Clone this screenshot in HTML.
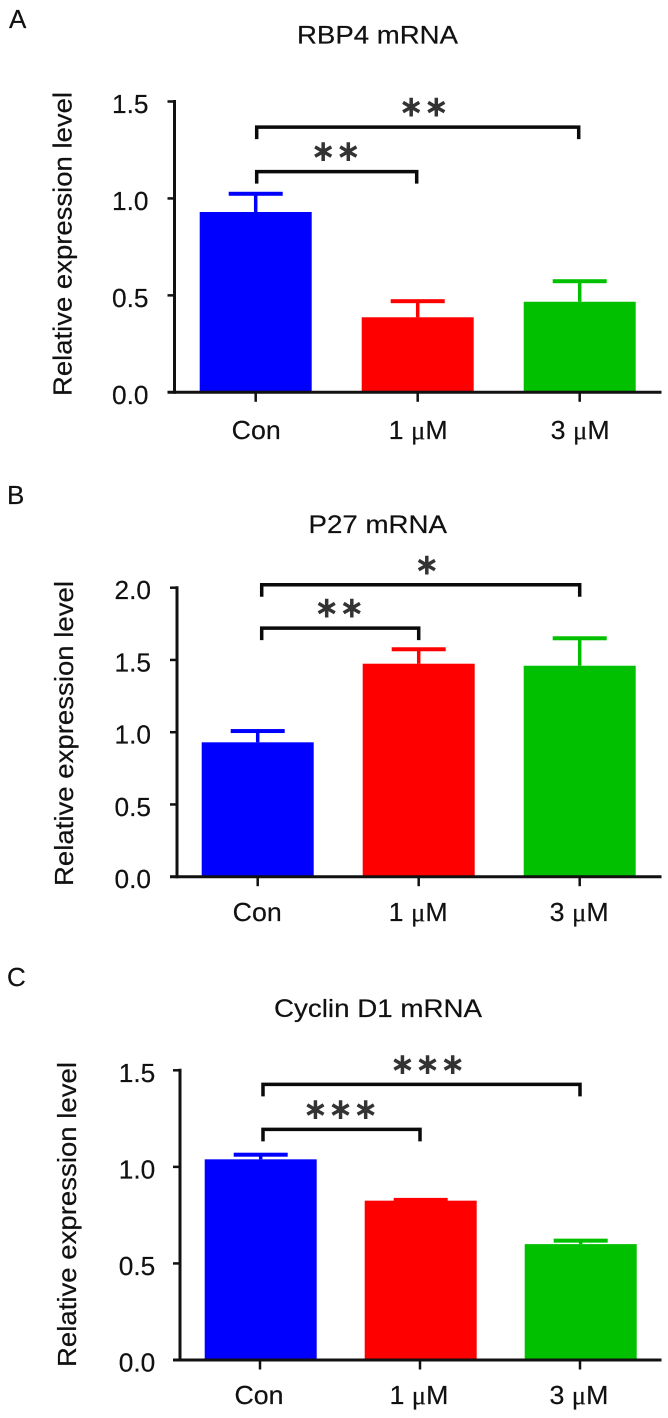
<!DOCTYPE html>
<html lang="en">
<head>
<meta charset="utf-8">
<title>RBP4, P27 and Cyclin D1 mRNA expression</title>
<style>
html,body{margin:0;padding:0;background:#fff;}
#figure{display:block;width:668px;height:1418px;}
text{font-family:"Liberation Sans",sans-serif;fill:#111;stroke:#111;stroke-width:0.2px;}
</style>
</head>
<body>
<svg id="figure" xmlns="http://www.w3.org/2000/svg" width="668" height="1418" viewBox="0 0 668 1418"></svg>
<script>
const categories = ['Con', '1', '3'];
const barColors = ['#0000ff', '#ff0000', '#00c000'];

const panelATicks = ['0.0', '0.5', '1.0', '1.5'];
const panelAValues = [0.93, 0.387, 0.467];
const panelAErrors = [0.094, 0.083, 0.106];
const panelASigLevels = [1.138, 1.368];
const panelASigLabels = ['**', '**'];

const panelBTicks = ['0.0', '0.5', '1.0', '1.5', '2.0'];
const panelBValues = [0.93, 1.474, 1.46];
const panelBErrors = [0.078, 0.1, 0.19];
const panelBSigLevels = [1.72, 2.02];
const panelBSigLabels = ['**', '*'];

const panelCTicks = ['0.0', '0.5', '1.0', '1.5'];
const panelCValues = [1.039, 0.825, 0.6];
const panelCErrors = [0.024, 0.004, 0.018];
const panelCSigLevels = [1.194, 1.427];
const panelCSigLabels = ['***', '***'];

const svg = document.getElementById('figure');
const NS = 'http://www.w3.org/2000/svg';

function make(tag, attrs, parent) {
  const node = document.createElementNS(NS, tag);
  for (const key in attrs) node.setAttribute(key, attrs[key]);
  (parent || svg).appendChild(node);
  return node;
}

function drawPanel(p) {
  const group = make('g', {});
  
  

  const tickCount = p.ticks.length;
  const yMax = parseFloat(p.ticks[tickCount - 1]);
  const yScale = function (v) { return p.y0 - (v / yMax) * (p.y0 - p.yTop); };
  const xScale = function (i) { return p.xFirst + i * p.xStep; };

  const letter = make('text', { x: p.letterX, y: p.letterY, 'font-size': 26 }, group);
  letter.textContent = p.letter;
  
  

  const title = make('text', { x: p.titleX, y: p.titleY, 'font-size': 25, textLength: p.titleW, lengthAdjust: 'spacingAndGlyphs' }, group);
  title.textContent = p.title;
  
  

  const yTitle = make('text', { transform: 'translate(' + p.yTitleX + ' ' + p.yTitleBottom + ') rotate(-90)', 'font-size': 26, textLength: p.yTitleLen, lengthAdjust: 'spacingAndGlyphs' }, group);
  yTitle.textContent = 'Relative expression level';
  
  

  p.values.forEach(function (value, i) {
    const cx = xScale(i);
    const color = barColors[i];
    const capY = yScale(value + p.errors[i]);
    const topY = yScale(value);

    const stem = make('line', { x1: cx + p.barNudge, x2: cx + p.barNudge, y1: capY, y2: topY, stroke: color, 'stroke-width': 3.5 }, group);
    
    

    const cap = make('rect', { x: cx + p.barNudge - 27, y: capY - 2, width: 54, height: 4, fill: color }, group);
    
    

    const bar = make('rect', { x: cx + p.barNudge - 56, y: topY, width: 112, height: p.y0 - topY, fill: color }, group);
    
    
  });

  const yAxis = make('line', { x1: p.axisX, x2: p.axisX, y1: p.yTop - 1.5, y2: p.y0 + 1.5, stroke: '#111', 'stroke-width': 3 }, group);
  
  

  const xAxis = make('line', { x1: p.axisX - 7, x2: 661.5, y1: p.y0, y2: p.y0, stroke: '#111', 'stroke-width': 3 }, group);
  
  

  p.ticks.forEach(function (label) {
    const ty = yScale(parseFloat(label));
    const tick = make('line', { x1: p.axisX - 7, x2: p.axisX, y1: ty, y2: ty, stroke: '#111', 'stroke-width': 2.5 }, group);
    
    

    const tickLabel = make('text', { x: p.tickLabelX, y: ty + 11.5, 'font-size': 26, textLength: 36.5, lengthAdjust: 'spacingAndGlyphs' }, group);
    tickLabel.textContent = label;
    
    
  });

  categories.forEach(function (name, i) {
    const cx = xScale(i);
    const tick = make('line', { x1: cx, x2: cx, y1: p.y0, y2: p.y0 + 9.5, stroke: '#111', 'stroke-width': 2.5 }, group);
    
    

    const label = make('text', { x: cx + p.catNudge, y: p.catY, 'font-size': 26, 'text-anchor': 'middle', textLength: name === 'Con' ? 49 : 59, lengthAdjust: 'spacingAndGlyphs' }, group);
    
    
    if (name === 'Con') {
      label.textContent = name;
    } else {
      label.appendChild(document.createTextNode(name + ' '));
      const mu = make('tspan', { style: 'font-family:"Liberation Serif",serif' }, label);
      mu.textContent = 'μ';
      label.appendChild(document.createTextNode('M'));
    }
  });

  p.sigLevels.forEach(function (level, k) {
    const endIndex = k + 1;
    const xa = xScale(0) + p.bracketNudgeL;
    const xb = xScale(endIndex) + p.bracketNudgeR;
    const by = yScale(level);
    const bracket = make('path', {
      d: 'M' + xa + ' ' + (by + 12) + 'V' + by + 'H' + xb + 'V' + (by + 12),
      fill: 'none', stroke: '#0a0a0a', 'stroke-width': 3.5
    }, group);
    
    

    const stars = make('text', {
      x: (xa + xb) / 2 + (k === 1 ? 6 : -1), y: by - 10.5,
      'font-size': 30, 'font-weight': 'bold', 'text-anchor': 'middle', 'letter-spacing': 0
    }, group);
    stars.setAttribute('style', 'font-family:"DejaVu Sans",sans-serif;fill:#333;stroke:none');
    stars.textContent = p.sigLabels[k].replace(/\*/g, '\u2217');
    
    
  });
}

drawPanel({
  letter: 'A', letterX: 9, letterY: 28,
  title: 'RBP4 mRNA', titleX: 297, titleY: 43.5, titleW: 161,
  yTitleX: 71.5, yTitleBottom: 396, yTitleLen: 304,
  ticks: panelATicks, values: panelAValues, errors: panelAErrors,
  sigLevels: panelASigLevels, sigLabels: panelASigLabels,
  y0: 392.3, yTop: 101.5, axisX: 174.5, tickLabelX: 112,
  xFirst: 255.7, xStep: 162, barNudge: 0, catY: 439, catNudge: 0.5,
  bracketNudgeL: 1, bracketNudgeR: -1
});

drawPanel({
  letter: 'B', letterX: 7, letterY: 504,
  title: 'P27 mRNA', titleX: 308.5, titleY: 533, titleW: 138.5,
  yTitleX: 73, yTitleBottom: 886, yTitleLen: 305,
  ticks: panelBTicks, values: panelBValues, errors: panelBErrors,
  sigLevels: panelBSigLevels, sigLabels: panelBSigLabels,
  y0: 876.7, yTop: 587.7, axisX: 177, tickLabelX: 114.5,
  xFirst: 257.7, xStep: 161, barNudge: 0, catY: 921, catNudge: -0.5,
  bracketNudgeL: 4, bracketNudgeR: 0
});

drawPanel({
  letter: 'C', letterX: 7, letterY: 986,
  title: 'Cyclin D1 mRNA', titleX: 274, titleY: 1017, titleW: 208,
  yTitleX: 76, yTitleBottom: 1367, yTitleLen: 305,
  ticks: panelCTicks, values: panelCValues, errors: panelCErrors,
  sigLevels: panelCSigLevels, sigLabels: panelCSigLabels,
  y0: 1360, yTop: 1070.3, axisX: 180, tickLabelX: 118.8,
  xFirst: 260, xStep: 160, barNudge: 0.7, catY: 1404, catNudge: -1,
  bracketNudgeL: 3, bracketNudgeR: 0
});
</script>
</body>
</html>
